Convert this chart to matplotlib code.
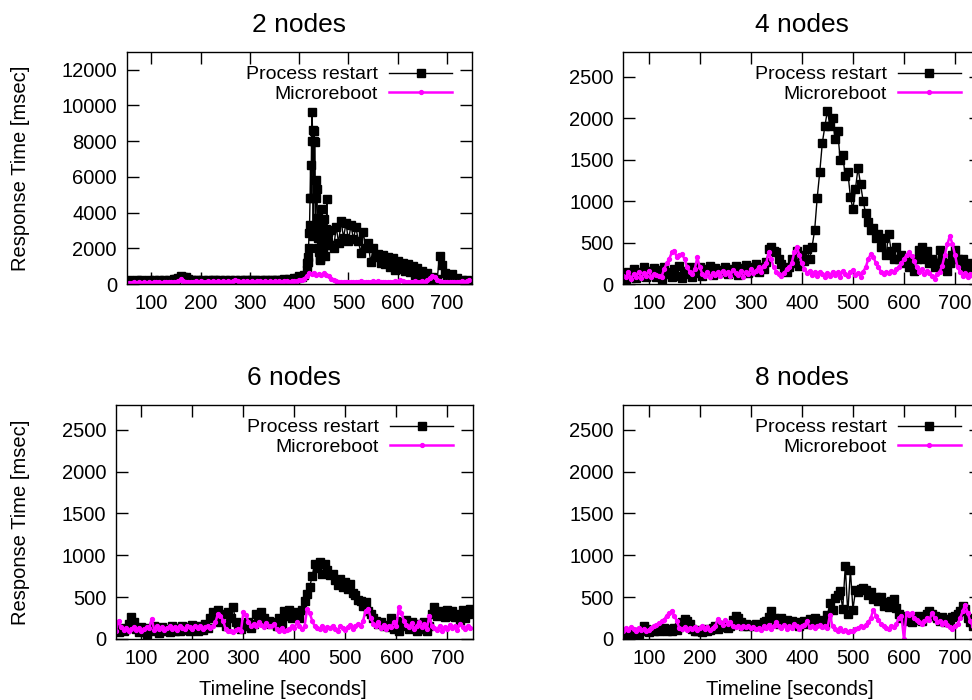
import numpy as np
import matplotlib.pyplot as plt

plt.rcParams['font.family'] = ['Liberation Sans', 'DejaVu Sans']

# response times in msec, one sample every 5 s from t = 50 s
# (the 2-node process restart spike is read at 1 s resolution)

# 2 nodes, process restart: 50..410 s (5 s), 415..459 s (1 s), 460..745 s (5 s)
pr2_a = [150, 220, 120, 180, 200, 140, 230, 160, 190, 250, 170, 210, 150, 240, 180, 200, 160, 230, 190, 260,
         280, 350, 420, 400, 380, 300, 220, 180, 240, 200, 150, 230, 190, 210, 170, 240, 200, 180, 220, 160,
         200, 180, 240, 160, 220, 190, 250, 170, 210, 230, 180, 200, 240, 160, 220, 190, 210, 250, 180, 230,
         200, 240, 180, 220, 260, 210, 300, 250, 350, 320, 450, 380, 520]
pr2_spike = [1180, 800, 1500, 1210, 2000, 2870, 3300, 4800, 6650, 4800,
             8000, 9630, 8630, 3000, 2690, 8540, 8000, 7970, 3200, 4790,
             5800, 5330, 3700, 2600, 2000, 1800, 3000, 1360, 1400, 2690,
             2200, 3300, 4190, 2500, 1900, 3630, 2400, 1590, 2300, 2800,
             3100, 4760, 2600, 2200, 2900]
pr2_b = [2200, 3000, 2000, 3200, 2300, 3500, 2600, 3400, 2400, 3300, 2500, 3200, 2400, 1740, 2900, 2000, 2300, 1210,
         2000, 1500, 1700, 1200, 1600, 1100, 1500, 950, 1450, 800, 1300, 850, 1200, 700, 1100, 650, 1000, 500,
         900, 450, 700, 300, 600, 250, 400, 200, 300, 1590, 1060, 600, 500, 350, 550, 250, 350, 150, 250, 100,
         200, 120]

mr2 = [60, 80, 50, 90, 70, 100, 60, 90, 80, 110, 70, 100, 90, 120, 80, 100, 90, 130, 100, 120,
       110, 150, 260, 180, 120, 100, 130, 110, 140, 120, 150, 110, 130, 150, 120, 140, 110, 160, 130, 150,
       120, 140, 130, 160, 250, 180, 120, 140, 110, 150, 130, 160, 120, 150, 140, 130, 160, 120, 150, 130,
       140, 120, 160, 130, 150, 140, 120, 160, 150, 170, 200, 250, 300, 450, 600, 550, 620, 500, 580, 520,
       600, 500, 420, 300, 200, 150, 120, 100, 130, 110, 90, 120, 100, 130, 110, 150, 120, 100, 130, 110,
       140, 120, 180, 130, 100, 120, 90, 130, 110, 140, 120, 200, 150, 110, 130, 100, 120, 140, 110, 130,
       150, 120, 200, 350, 450, 380, 250, 150, 120, 100, 130, 90, 110, 130, 100, 120, 160, 110, 140, 200]

# 4 nodes
pr4 = [120, 60, 150, 90, 180, 70, 140, 100, 200, 80, 160, 110, 190, 90, 170, 60, 210, 120, 150, 90,
       180, 100, 220, 70, 160, 120, 200, 90, 170, 130, 210, 100, 180, 140, 220, 110, 190, 130, 170, 150,
       200, 120, 180, 140, 220, 110, 190, 150, 230, 130, 200, 160, 240, 150, 210, 180, 260, 420, 450, 400,
       380, 300, 240, 180, 150, 200, 300, 250, 400, 220, 350, 280, 420, 300, 450, 650, 1040, 1350, 1700, 1900,
       2090, 1900, 2000, 1750, 1850, 1500, 1550, 1300, 1350, 1050, 900, 1150, 1400, 1200, 1000, 850, 750, 650, 680, 550,
       600, 450, 550, 350, 600, 400, 300, 450, 300, 350, 250, 300, 200, 250, 160, 300, 410, 450, 300, 400,
       250, 300, 200, 250, 410, 300, 200, 160, 250, 350, 410, 300, 250, 300, 200, 250, 150, 200, 150, 200]

mr4 = [100, 80, 140, 60, 120, 90, 150, 70, 130, 100, 160, 80, 120, 110, 100, 90, 180, 250, 300, 380,
       400, 320, 350, 360, 300, 200, 150, 120, 180, 320, 200, 120, 100, 150, 90, 130, 110, 140, 100, 160,
       120, 150, 100, 170, 130, 110, 160, 90, 140, 120, 180, 130, 160, 200, 150, 220, 250, 380, 300, 200,
       150, 120, 100, 130, 180, 200, 250, 380, 450, 350, 250, 180, 130, 160, 110, 140, 100, 150, 120, 90,
       130, 100, 150, 110, 140, 90, 160, 120, 100, 140, 170, 110, 130, 90, 150, 200, 300, 360, 330, 250,
       200, 150, 120, 140, 130, 160, 150, 180, 200, 250, 300, 350, 380, 340, 280, 200, 150, 180, 120, 160,
       130, 100, 60, 120, 150, 220, 350, 480, 580, 480, 350, 200, 150, 100, 130, 80, 120, 100, 90, 110]

# 6 nodes
pr6 = [100, 80, 130, 90, 120, 180, 260, 200, 120, 80, 140, 100, 60, 130, 90, 150, 110, 70, 140, 100,
       120, 80, 150, 100, 130, 90, 160, 110, 140, 100, 170, 120, 90, 150, 110, 180, 130, 250, 320, 280,
       350, 200, 300, 150, 320, 250, 380, 200, 150, 120, 180, 150, 200, 130, 180, 300, 280, 320, 250, 200,
       220, 180, 200, 150, 250, 180, 330, 280, 350, 250, 300, 320, 250, 350, 450, 540, 620, 750, 900, 850,
       920, 780, 900, 820, 760, 780, 700, 640, 720, 620, 680, 600, 660, 550, 520, 470, 450, 400, 440, 330,
       300, 250, 220, 180, 200, 150, 170, 140, 250, 120, 220, 100, 200, 150, 230, 120, 200, 160, 100, 180,
       120, 200, 90, 150, 300, 380, 280, 340, 300, 260, 350, 280, 330, 260, 300, 220, 350, 250, 300, 360]

mr6 = [100, 220, 140, 110, 130, 100, 120, 140, 110, 130, 100, 120, 140, 130, 240, 110, 150, 120, 140, 110,
       130, 150, 120, 140, 110, 160, 130, 120, 150, 140, 120, 160, 130, 150, 120, 140, 160, 130, 150, 200,
       300, 280, 220, 120, 90, 100, 80, 110, 120, 90, 320, 290, 200, 160, 180, 150, 200, 170, 140, 190,
       160, 150, 180, 120, 100, 130, 90, 110, 120, 150, 130, 200, 160, 120, 150, 360, 310, 220, 150, 130,
       120, 150, 110, 140, 130, 160, 120, 100, 150, 130, 110, 140, 170, 120, 160, 180, 150, 220, 340, 360,
       250, 180, 150, 200, 130, 170, 120, 160, 140, 200, 150, 380, 310, 220, 170, 140, 190, 120, 160, 200,
       140, 180, 120, 280, 150, 130, 110, 160, 100, 140, 120, 170, 130, 150, 110, 180, 140, 120, 160, 130]

# 8 nodes
pr8 = [30, 50, 20, 60, 40, 80, 60, 100, 150, 120, 80, 110, 90, 120, 100, 110, 130, 90, 120, 100,
       130, 110, 140, 200, 240, 210, 180, 120, 100, 90, 110, 80, 120, 100, 110, 130, 150, 120, 170, 140,
       160, 130, 150, 230, 270, 250, 200, 160, 180, 150, 170, 160, 180, 150, 170, 200, 220, 260, 330, 250,
       220, 180, 250, 200, 230, 190, 210, 180, 200, 150, 190, 210, 180, 240, 200, 250, 190, 230, 200, 180,
       290, 430, 350, 490, 520, 570, 360, 870, 300, 830, 350, 580, 560, 600, 610, 580, 520, 560, 480, 500,
       450, 500, 400, 440, 380, 450, 480, 370, 300, 250, 280, 220, 260, 200, 250, 230, 270, 210, 260, 300,
       330, 300, 280, 250, 220, 260, 200, 240, 220, 260, 280, 300, 340, 400, 360, 250, 200, 160, 200, 150]

mr8 = [100, 130, 110, 140, 120, 100, 130, 110, 120, 100, 110, 130, 150, 170, 190, 210, 230, 280, 310, 330,
       280, 210, 130, 120, 140, 110, 130, 120, 140, 110, 130, 150, 120, 140, 110, 130, 150, 240, 200, 170,
       230, 180, 200, 150, 140, 160, 130, 150, 140, 160, 130, 140, 120, 130, 110, 150, 130, 170, 120, 160,
       200, 150, 130, 170, 120, 150, 130, 180, 150, 120, 160, 170, 210, 140, 160, 130, 150, 170, 140, 160,
       130, 290, 150, 120, 100, 130, 90, 110, 80, 100, 90, 120, 130, 150, 140, 170, 200, 250, 350, 280,
       230, 180, 150, 130, 120, 150, 140, 180, 250, 280, 0, 310, 290, 310, 250, 230, 200, 180, 210, 250,
       230, 310, 250, 200, 220, 180, 200, 170, 140, 120, 150, 180, 250, 330, 410, 310, 210, 150, 160, 130]

titles = ['2 nodes', '4 nodes', '6 nodes', '8 nodes']
ymax = [13000, 2800, 2800, 2800]
yticks = [np.arange(0, 12001, 2000), np.arange(0, 2501, 500), np.arange(0, 2501, 500), np.arange(0, 2501, 500)]
xticks = [100, 200, 300, 400, 500, 600, 700]

t = 50 + 5 * np.arange(len(mr2))
t2 = np.concatenate([50 + 5 * np.arange(len(pr2_a)),
                     415 + np.arange(len(pr2_spike)),
                     460 + 5 * np.arange(len(pr2_b))])
pr2 = pr2_a + pr2_spike + pr2_b

series = [(t2, pr2, mr2), (t, pr4, mr4), (t, pr6, mr6), (t, pr8, mr8)]

W, H = 972, 700
# axes boxes in pixels: left, top, right, bottom
boxes = [(126.7, 51.7, 471.7, 284), (623.3, 51.7, 980.5, 284),
         (116, 404.7, 472.7, 639), (623.3, 404.7, 980.5, 639)]

fig = plt.figure(figsize=(W / 100, H / 100), dpi=100)

for i in range(4):
    l, tp, r, b = boxes[i]
    ax = fig.add_axes([l / W, 1 - b / H, (r - l) / W, (b - tp) / H])
    tt, pr, mr = series[i]

    ax.plot(tt, pr, '-', color='black', lw=1.0, marker='s', ms=5.4, mec='black', mfc='black',
            label='Process restart')
    ax.plot(t, mr, '-', color='#ff00ff', lw=1.8, marker='o', ms=2.8, mec='#ff00ff', mfc='#ff00ff',
            label='Microreboot')

    ax.set_xlim(50, 750)
    ax.set_ylim(0, ymax[i])
    ax.set_xticks(xticks)
    ax.set_yticks(yticks[i])
    ax.tick_params(direction='in', length=8.5, width=1, top=True, right=True,
                   labelsize=14.5, pad=7)
    for s in ax.spines.values():
        s.set_linewidth(1)

    ax.set_title(titles[i], fontsize=19, pad=14)

    if i % 2 == 0:
        ax.set_ylabel('Response Time [msec]', fontsize=14.5)
        ax.yaxis.set_label_coords((30 - l) / (r - l), 0.5)
    if i >= 2:
        ax.set_xlabel('Timeline [seconds]', fontsize=14.5)
        ax.xaxis.set_label_coords(0.5 - 12 / (r - l), -41 / (b - tp))

    ax.legend(loc='upper right', bbox_to_anchor=(1 - 20 / (r - l), 1 - 14 / (b - tp)),
              frameon=False, markerfirst=False, numpoints=1, fontsize=14,
              handlelength=3.2, handletextpad=0.6, labelspacing=0.1,
              borderaxespad=0, borderpad=0)

plt.savefig('out.png', dpi=100)
